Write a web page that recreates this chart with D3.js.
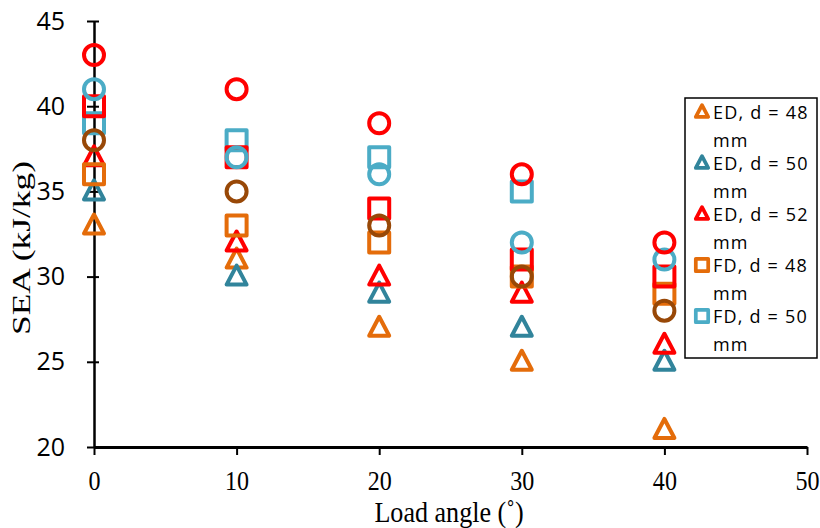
<!DOCTYPE html>
<html><head><meta charset="utf-8">
<script src="https://cdn.jsdelivr.net/npm/d3@7"></script>
<style>body{margin:0;background:#fff;} svg{display:block;}</style>
</head><body>
<svg id="chart" width="820" height="528"></svg>
<script>
const angles = [0, 10, 20, 30, 40];
const seriesNames = ["ED, d = 48 mm","ED, d = 50 mm","ED, d = 52 mm","FD, d = 48 mm","FD, d = 50 mm","FD, d = 52 mm","MD, d = 48 mm","MD, d = 50 mm","MD, d = 52 mm"];
const seriesShapes = ["triangle","triangle","triangle","square","square","square","circle","circle","circle"];
const seriesColors = ["#E46C0A","#31849B","#FF0000","#E46C0A","#4BACC6","#FF0000","#984807","#4BACC6","#FF0000"];
const ed48 = [33, 31, 27, 25, 21];
const ed50 = [35, 30, 29, 27, 25];
const ed52 = [37, 32, 30, 29, 26];
const fd48 = [36, 33, 32, 30, 29];
const fd50 = [39, 38, 37, 35, null];
const fd52 = [40, 37, 34, 31, 30];
const md48 = [38, 35, 33, 30, 28];
const md50 = [41, 37, 36, 32, 31];
const md52 = [43, 41, 39, 36, 32];
const seriesValues = [ed48, ed50, ed52, fd48, fd50, fd52, md48, md50, md52];
const xTicks = [0,10,20,30,40,50];
const yTicks = [20,25,30,35,40,45];

const svg = d3.select("#chart");
const x = d3.scaleLinear().domain([0,50]).range([94,807]);
const y = d3.scaleLinear().domain([20,45]).range([447,21]);

function shapePath(s){
  if(s==="circle") return "M-10,0A10,10 0 1,0 10,0A10,10 0 1,0 -10,0Z";
  if(s==="square") return "M-10,-10H10V10H-10Z";
  return "M0,-11L10,8H-10Z";
}

// axes
const yAxis = svg.append("g").attr("transform","translate(94,0)")
  .call(d3.axisLeft(y).tickValues(yTicks).tickSizeInner(7).tickSizeOuter(0).tickPadding(22));
yAxis.select(".domain").attr("stroke","#000").attr("stroke-width",2.5);
yAxis.selectAll(".tick line").attr("stroke","#000").attr("stroke-width",2).attr("x2",-7).attr("x1",5);
yAxis.selectAll(".tick text").attr("font-family","'Open Sans', 'Liberation Sans', sans-serif").attr("font-size",25).attr("fill","#000");

const xAxis = svg.append("g").attr("transform","translate(0,447)")
  .call(d3.axisBottom(x).tickValues(xTicks).tickSizeInner(8).tickSizeOuter(0).tickPadding(15));
xAxis.select(".domain").attr("stroke","#000").attr("stroke-width",3);
xAxis.selectAll(".tick line").attr("stroke","#000").attr("stroke-width",2);
xAxis.selectAll(".tick text").attr("font-family","'Liberation Serif', 'Times New Roman', serif").attr("font-size",28).attr("fill","#000")
  .attr("transform","scale(0.86,1)");

svg.append("text").attr("transform","translate(449,522) scale(0.9,1)").attr("text-anchor","middle")
  .attr("font-family","'Liberation Serif', serif").attr("font-size",29).text("Load angle (˚)");
svg.append("text").attr("transform","translate(30,248) rotate(-90)").attr("text-anchor","middle")
  .attr("font-family","'Liberation Serif', serif").attr("font-size",26)
  .attr("textLength",174).attr("lengthAdjust","spacingAndGlyphs").text("SEA (kJ/kg)");

// points
seriesValues.forEach((vals,i)=>{
  const g = svg.append("g");
  vals.forEach((v,j)=>{
    if(v===null) return;
    g.append("path").attr("d",shapePath(seriesShapes[i]))
      .attr("transform",`translate(${x(angles[j])},${y(v)})`)
      .attr("fill","none").attr("stroke",seriesColors[i]).attr("stroke-width",4).attr("stroke-linejoin","round");
  });
});

// legend (only the entries that fit in the box are visible, as in the reference)
const lx=685, ly=98, lw=132, lh=260, step=51;
svg.append("clipPath").attr("id","lc").append("rect").attr("x",lx).attr("y",ly).attr("width",lw).attr("height",lh);
svg.append("rect").attr("x",lx).attr("y",ly).attr("width",lw).attr("height",lh).attr("fill","#fff").attr("stroke","#000").attr("stroke-width",1.5);
const lg = svg.append("g").attr("clip-path","url(#lc)");
seriesNames.forEach((name,i)=>{
  const cy = 112 + i*step;
  if(cy + 35 > ly + lh) return;
  const parts = name.split(" mm");
  lg.append("path").attr("d",shapePath(seriesShapes[i]))
    .attr("transform",`translate(702,${cy}) scale(0.62)`)
    .attr("fill","none").attr("stroke",seriesColors[i]).attr("stroke-width",6).attr("stroke-linejoin","round");
  const t = lg.append("text").attr("font-family","'Open Sans', sans-serif").attr("font-size",18).attr("letter-spacing",1.2).attr("fill","#000");
  t.append("tspan").attr("x",713).attr("y",cy+7).text(parts[0]);
  t.append("tspan").attr("x",713).attr("y",cy+35).text("mm");
});
</script>
</body></html>
